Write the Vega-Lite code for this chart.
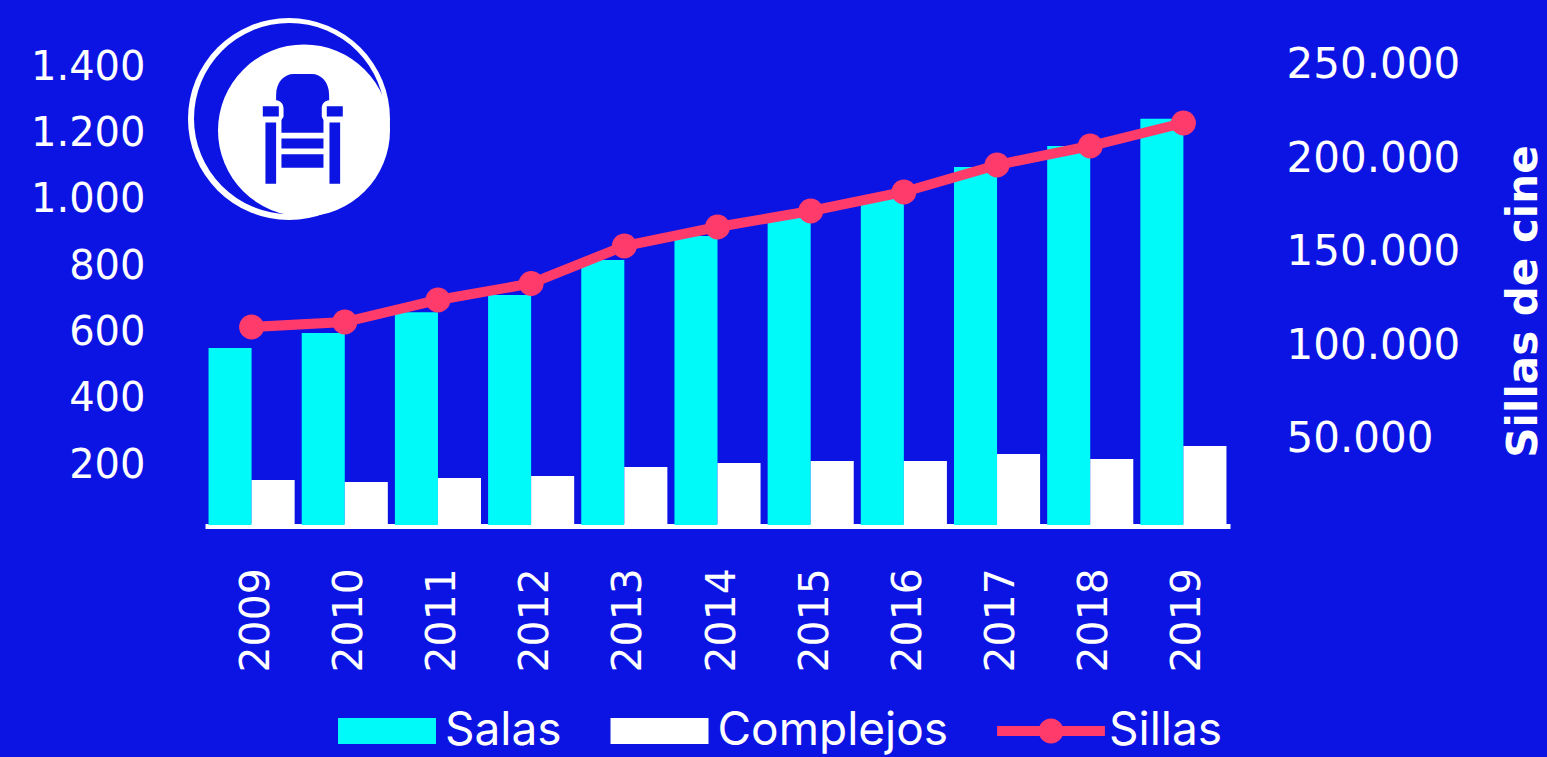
{"$schema":"https://vega.github.io/schema/vega-lite/v6.json","width":1025,"height":500,"autosize":"none","padding":{"left":205,"top":26,"right":317,"bottom":231},"background":"#0B14E3","config":{"view":{"stroke":null},"font":"DejaVu Sans"},
"data":{"values":[
{"year":"2009","serie":"Salas","value":547},{"year":"2010","serie":"Salas","value":592},{"year":"2011","serie":"Salas","value":655},{"year":"2012","serie":"Salas","value":707},{"year":"2013","serie":"Salas","value":812},{"year":"2014","serie":"Salas","value":885},{"year":"2015","serie":"Salas","value":939},{"year":"2016","serie":"Salas","value":1002},{"year":"2017","serie":"Salas","value":1093},{"year":"2018","serie":"Salas","value":1156},{"year":"2019","serie":"Salas","value":1238},
{"year":"2009","serie":"Complejos","value":149},{"year":"2010","serie":"Complejos","value":143},{"year":"2011","serie":"Complejos","value":155},{"year":"2012","serie":"Complejos","value":161},{"year":"2013","serie":"Complejos","value":188},{"year":"2014","serie":"Complejos","value":200},{"year":"2015","serie":"Complejos","value":206},{"year":"2016","serie":"Complejos","value":206},{"year":"2017","serie":"Complejos","value":227},{"year":"2018","serie":"Complejos","value":212},{"year":"2019","serie":"Complejos","value":251},
{"year":"2009","serie":"Sillas","value":108824},{"year":"2010","serie":"Sillas","value":111497},{"year":"2011","serie":"Sillas","value":123262},{"year":"2012","serie":"Sillas","value":132086},{"year":"2013","serie":"Sillas","value":152139},{"year":"2014","serie":"Sillas","value":162299},{"year":"2015","serie":"Sillas","value":170856},{"year":"2016","serie":"Sillas","value":181016},{"year":"2017","serie":"Sillas","value":195455},{"year":"2018","serie":"Sillas","value":205615},{"year":"2019","serie":"Sillas","value":217914}
]},
"encoding":{"x":{"field":"year","type":"ordinal","title":null,"scale":{"paddingInner":0.076,"paddingOuter":0.038,"domain":["2009","2010","2011","2012","2013","2014","2015","2016","2017","2018","2019"]},"axis":{"labelAngle":-90,"labelAlign":"left","labelBaseline":"middle","labelPadding":146,"labelOffset":5,"labelFontSize":41,"labelColor":"white","labelFont":"DejaVu Sans","labelBound":false,"labelOverlap":false,"ticks":false,"grid":false,"domainColor":"white","domainWidth":5}}},
"layer":[
{"encoding":{"y":{"type":"quantitative","field":"value","scale":{"domain":[10,1518],"nice":false,"zero":false},"title":null,"axis":{"values":[200,400,600,800,1000,1200,1400],"labelExpr":"replace(format(datum.value,','),',','.')","labelFontSize":40,"labelFont":"DejaVu Sans","labelColor":"white","labelPadding":60,"labelOffset":2,"domain":false,"ticks":false,"grid":false,"labelBound":false,"labelFlush":false}}},
"layer":[
{"transform":[{"filter":"datum.serie!='Sillas'"}],"mark":{"type":"bar","clip":false},"encoding":{"y":{"field":"value","type":"quantitative","stack":null},"y2":{"datum":13},"xOffset":{"field":"serie","type":"nominal","sort":["Salas","Complejos"]},
"color":{"field":"serie","type":"nominal","scale":{"domain":["Salas","Complejos","Sillas"],"range":["#00FAFA","#FFFFFF","#FF3B6B"]},"legend":{"title":null,"orient":"none","legendX":133,"legendY":656,"columns":3,"columnPadding":48.5,"gridAlign":"each","symbolSize":9604,"labelFontSize":46,"labelFont":"Inter","labelColor":"white","labelOffset":9,"labelLimit":500,"symbolStrokeWidth":0}}}},
{"data":{"values":[{"year":"2009","value":1237.5}]},"mark":{"type":"point","shape":"circle","filled":true,"opacity":1,"color":"#FFFFFF","size":40804,"xOffset":37.4}},
{"data":{"values":[{"year":"2009","value":1239}]},"mark":{"type":"point","shape":"circle","filled":true,"opacity":1,"color":"#0B14E3","size":36481,"xOffset":37.9}},
{"data":{"values":[{"year":"2009","value":1203}]},"mark":{"type":"point","shape":"circle","filled":true,"opacity":1,"color":"#FFFFFF","size":29584,"xOffset":52.4}},
{"data":{"values":[{"year":"2009","value":1208}]},"mark":{"type":"point","filled":true,"opacity":1,"color":"#0B14E3","size":12100,"xOffset":51.2,"shape":"M-0.485,-0.612 C-0.485,-0.85 -0.33,-0.994 -0.17,-0.994 L0.164,-0.994 C0.33,-0.994 0.479,-0.85 0.479,-0.612 L0.479,-0.52 C0.40,-0.51 0.345,-0.46 0.345,-0.37 L0.345,-0.22 L0.376,-0.158 L0.376,0.073 L-0.388,0.073 L-0.388,-0.158 L-0.35,-0.22 L-0.35,-0.37 C-0.35,-0.46 -0.41,-0.51 -0.485,-0.52 Z M-0.727,-0.412 H-0.436 V-0.224 H-0.727 Z M0.436,-0.412 H0.727 V-0.224 H0.436 Z M-0.679,-0.115 H-0.485 V1 H-0.679 Z M0.485,-0.115 H0.679 V1 H0.485 Z M-0.388,0.176 H0.376 V0.358 H-0.388 Z M-0.388,0.461 H0.376 V0.709 H-0.388 Z"}}
]},
{"transform":[{"filter":"datum.serie=='Sillas'"}],"encoding":{"y":{"type":"quantitative","field":"value","scale":{"domain":[2406,269786],"nice":false,"zero":false},"title":"Sillas de cine","axis":{"orient":"right","values":[50000,100000,150000,200000,250000],"labelExpr":"replace(format(datum.value,','),',','.')","labelFontSize":42,"labelFont":"DejaVu Sans","labelColor":"white","labelPadding":56,"labelOffset":2,"labelAlign":"left","domain":false,"ticks":false,"grid":false,"labelBound":false,"labelFlush":false,"titleFontSize":42,"titleFont":"DejaVu Sans","titleFontWeight":"bold","titleColor":"white","titleAngle":-90,"titleX":293,"titleY":275,"titleAlign":"center","titleBaseline":"middle"}}},
"layer":[
{"mark":{"type":"line","color":"#FF3B6B","strokeWidth":10,"strokeCap":"round"}},
{"mark":{"type":"point","shape":"circle","filled":true,"opacity":1,"color":"#FF3B6B","size":625}},
{"mark":{"type":"point","filled":true,"opacity":1,"size":0},"encoding":{"color":{"field":"serie","type":"nominal","scale":{"domain":["Salas","Complejos","Sillas"],"range":["#00FAFA","#FFFFFF","#FF3B6B"]},"legend":{"title":null,"orient":"none","legendX":133,"legendY":656,"columns":3,"columnPadding":48.5,"gridAlign":"each","symbolSize":9604,"labelFontSize":46,"labelFont":"Inter","labelColor":"white","labelOffset":9,"labelLimit":500,"symbolStrokeWidth":0}},"shape":{"field":"serie","type":"nominal","scale":{"domain":["Salas","Complejos","Sillas"],"range":["M-1,-0.265H1V0.265H-1Z","M-1,-0.265H1V0.265H-1Z","M-1.1,-0.1H1.1V0.1H-1.1Z M-0.255,0 A0.255,0.255 0 1 1 0.255,0 A0.255,0.255 0 1 1 -0.255,0Z"]},"legend":{"title":null,"orient":"none","legendX":133,"legendY":656,"columns":3,"columnPadding":48.5,"gridAlign":"each","symbolSize":9604,"labelFontSize":46,"labelFont":"Inter","labelColor":"white","labelOffset":9,"labelLimit":500,"symbolStrokeWidth":0}}}}
]}
],
"resolve":{"scale":{"y":"independent"}}}
